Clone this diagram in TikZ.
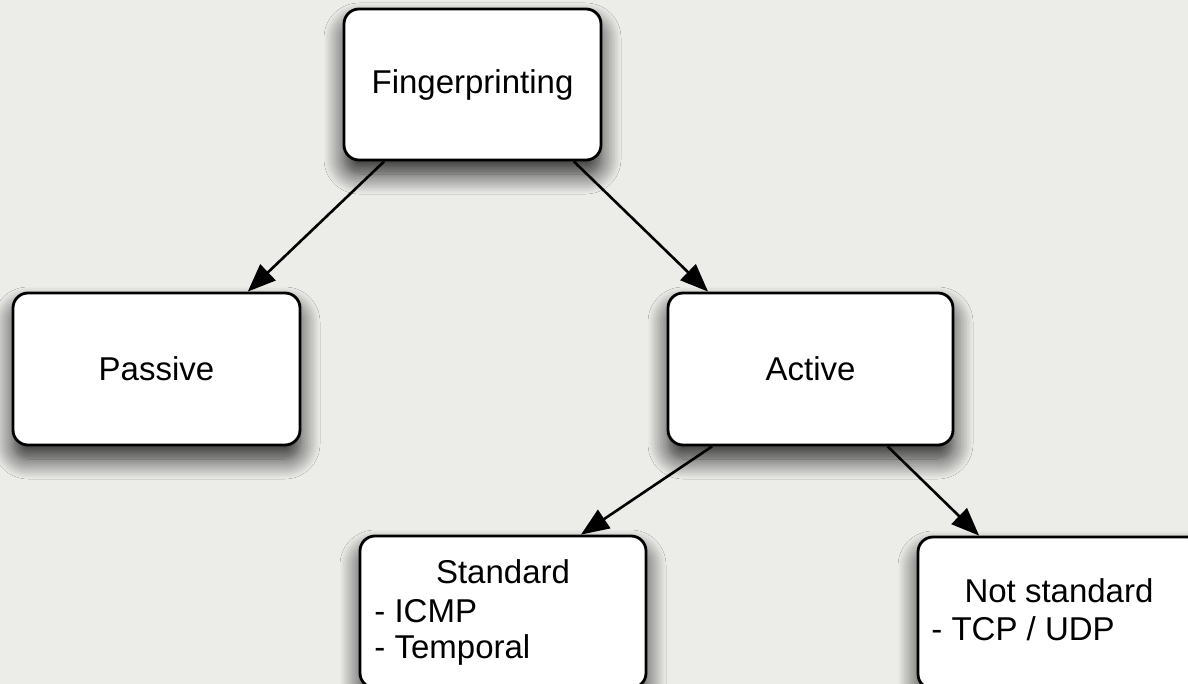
\documentclass[tikz,border=0pt]{standalone}
\usepackage{fontspec}
\setmainfont{Liberation Sans}
\usetikzlibrary{calc,arrows.meta,shadows.blur}
\definecolor{paper}{RGB}{236,236,233}
\begin{document}
\begin{tikzpicture}[x=0.5pt,y=0.5pt,
  box/.style={draw=black, line width=1.4pt, fill=white, rounded corners=7.5pt,
    inner sep=0pt,
    blur shadow={shadow xshift=0pt, shadow yshift=-7pt,
                 shadow blur radius=10pt, shadow opacity=85, shadow blur steps=14}},
  lbl/.style={font=\fontsize{16.5pt}{19pt}\selectfont, inner sep=0pt},
  link/.style={line width=1.3pt, -{Triangle[length=14pt,width=11pt]}}]

% page background (pixel grid, y grows downward as negative values)
\fill[paper] (0,0) rectangle (1188,-684);
\useasboundingbox (0,0) rectangle (1188,-684);

% boxes
\node[box, lbl, minimum width=128.5pt, minimum height=75.5pt] (fp) at (472.5,-84.5) {Fingerprinting};
\node[box, lbl, minimum width=143.5pt, minimum height=76pt] (passive) at (156.5,-369) {Passive};
\node[box, lbl, minimum width=142.5pt, minimum height=76pt] (active) at (810.5,-369) {Active};
\node[box, minimum width=143pt, minimum height=76pt] (std) at (503,-612) {};
\node[box, minimum width=142pt, minimum height=76pt] (nstd) at (1060,-613) {};

% box contents
\node[lbl, anchor=base] (stdtitle) at (503,-583) {Standard};
\node[lbl, anchor=base west] (stdicmp) at (374,-622) {- ICMP};
\node[lbl, anchor=base west] (stdtemp) at (374,-658) {- Temporal};
\node[lbl, anchor=base] (nstdtitle) at (1059,-602) {Not standard};
\node[lbl, anchor=base west] (nstdtcp) at (931,-640) {- TCP / UDP};

% connectors
\draw[link] ($(fp.south west)!0.16!(fp.south east)$) -- ($(passive.north west)!0.815!(passive.north east)$);
\draw[link] ($(fp.south west)!0.89!(fp.south east)$) -- ($(active.north west)!0.144!(active.north east)$);
\draw[link] ($(active.south west)!0.158!(active.south east)$) -- ($(std.north west)!0.77!(std.north east)$);
\draw[link] ($(active.south west)!0.768!(active.south east)$) -- ($(nstd.north west)!0.218!(nstd.north east)$);
\end{tikzpicture}
\end{document}
